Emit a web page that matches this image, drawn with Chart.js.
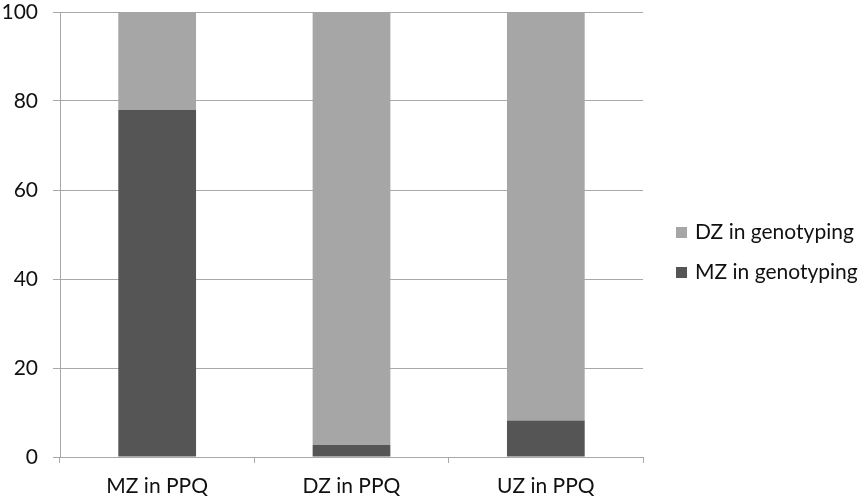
<!DOCTYPE html>
<html>
<head>
<meta charset="utf-8">
<script src="https://cdn.jsdelivr.net/npm/chart.js@4"></script>
<style>
    html, body { margin: 0; padding: 0; background: #fff; }
    #wrap { width: 866px; height: 500px; position: relative; }
</style>
</head>
<body>
<div id="wrap"><canvas id="chart"></canvas></div>
<script>
// Chart data
const categories = ['MZ in PPQ', 'DZ in PPQ', 'UZ in PPQ'];
const mzGenotyping = [78, 2.7, 8.2];
const dzGenotyping = [22, 97.3, 91.8];
const yTicks = [0, 20, 40, 60, 80, 100];

const FONT = 'Lato, "Open Sans", sans-serif';
const GRID = '#a8a8a8';

// Legend drawn by hand, to the right of the plot area
const sideLegend = {
    id: 'sideLegend',
    afterDraw(chart) {
        const ctx = chart.ctx;
        const items = chart.data.datasets.slice().reverse();
        ctx.save();
        ctx.font = '21px ' + FONT;
        ctx.textBaseline = 'middle';
        items.forEach((ds, i) => {
            const y = 232 + i * 40;
            ctx.fillStyle = ds.backgroundColor;
            ctx.fillRect(676, y - 5, 11, 11);
            ctx.fillStyle = '#111';
            ctx.fillText(ds.label, 695, y);
        });
        ctx.restore();
    }
};

const ctx = document.getElementById('chart').getContext('2d');
new Chart(ctx, {
    type: 'bar',
    data: {
        labels: categories,
        datasets: [{
            label: 'MZ in genotyping',
            data: mzGenotyping,
            backgroundColor: '#555555',
            borderWidth: 0
        }, {
            label: 'DZ in genotyping',
            data: dzGenotyping,
            backgroundColor: '#a6a6a6',
            borderWidth: 0
        }]
    },
    options: {
        responsive: true,
        maintainAspectRatio: false,
        animation: false,
        layout: {
            padding: { top: 12, right: 223, left: 0, bottom: 0 }
        },
        plugins: {
            legend: { display: false },
            tooltip: { enabled: false }
        },
        datasets: {
            bar: { categoryPercentage: 1, barPercentage: 0.4 }
        },
        scales: {
            x: {
                stacked: true,
                offset: true,
                grid: {
                    offset: true,
                    drawOnChartArea: false,
                    drawTicks: true,
                    tickLength: 6,
                    color: GRID
                },
                border: { color: GRID, width: 1 },
                ticks: {
                    color: '#111',
                    padding: 11,
                    font: { family: FONT, size: 21 }
                },
                afterFit(scale) {
                    scale.height = 43;
                    scale.paddingLeft = 0;
                    scale.paddingRight = 0;
                }
            },
            y: {
                stacked: true,
                min: 0,
                max: 100,
                afterBuildTicks(scale) {
                    scale.ticks = yTicks.map(v => ({ value: v }));
                },
                grid: {
                    color: GRID,
                    tickLength: 7
                },
                border: { color: GRID, width: 1 },
                ticks: {
                    color: '#111',
                    padding: 15,
                    font: { family: FONT, size: 21 }
                },
                afterFit(scale) {
                    scale.width = 60;
                    scale.paddingTop = 0;
                    scale.paddingBottom = 0;
                }
            }
        }
    },
    plugins: [sideLegend]
});
</script>
</body>
</html>
